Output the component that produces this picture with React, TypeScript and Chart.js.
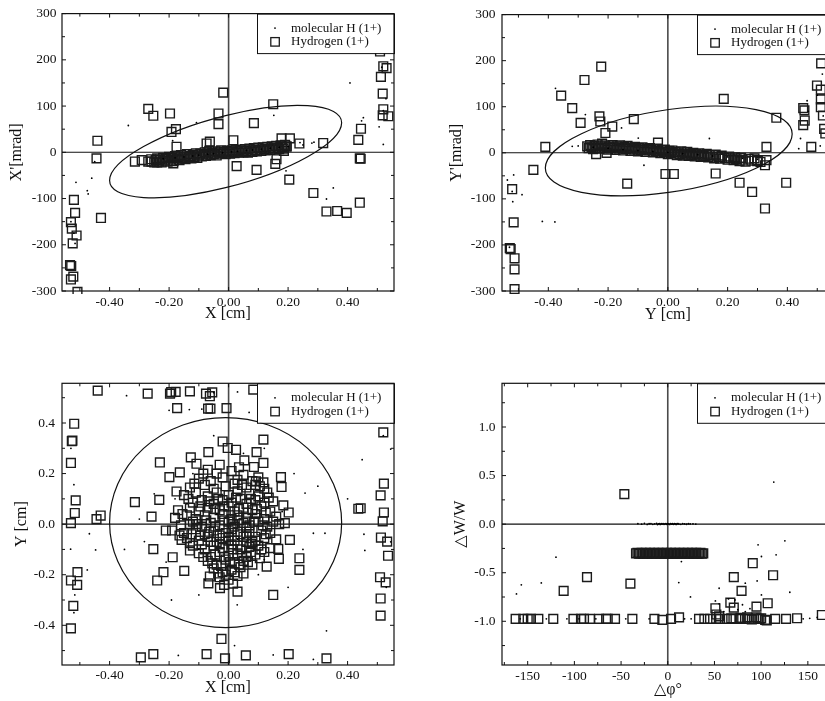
import { useEffect, useRef } from "react";
import { Chart, registerables } from "chart.js";

Chart.register(...registerables);

type Pt = [number, number];

const SERIF = "'Liberation Serif', 'Times New Roman', 'DejaVu Serif', serif";
const SERIES_LABELS = ["molecular H (1+)", "Hydrogen (1+)"];

// ---------- Shared tick values ----------
const CM_TICKS = [-0.4, -0.2, 0, 0.2, 0.4];
const CM_MINOR = [-0.5, -0.3, -0.1, 0.1, 0.3, 0.5];
const MRAD_TICKS = [-300, -200, -100, 0, 100, 200, 300];
const MRAD_MINOR = [-250, -150, -50, 50, 150, 250];
const PHI_TICKS = [-150, -100, -50, 0, 50, 100, 150];
const PHI_MINOR = [-175, -125, -75, -25, 25, 75, 125, 175];
const DW_TICKS = [-1.0, -0.5, 0, 0.5, 1.0];
const DW_MINOR = [-1.25, -0.75, -0.25, 0.25, 0.75, 1.25];

// ---------- Panel 1: X vs X' ----------
const P1_DOTS: Pt[] = [
  [-0.337, 58], [-0.108, 64], [0.408, 150], [0.453, 75], [0.447, 68], [0.506, 55], [0.52, 17], [0.529, 116],
  [0.287, 22], [0.352, -77], [0.329, -101], [0.193, -40], [0.152, 80], [-0.46, -56], [-0.475, -83], [-0.472, -90],
  [-0.513, -65], [-0.516, -197], [-0.188, 25], [-0.45, -20], [0.24, 21], [0.28, 20], [-0.53, -150], [-0.52, -175],
  [0.515, 184], [0.52, 90],
  [-0.22, -14], [-0.18, -12], [-0.15, -10], [-0.12, -8], [-0.1, -6], [-0.07, -4], [-0.05, -3], [-0.02, -1],
  [0.01, 1], [0.03, 2], [0.06, 4], [0.08, 5], [0.11, 7], [0.14, 9], [0.17, 11], [0.2, 13], [0.25, 16],
];
const P1_SQUARES: Pt[] = [
  [0.509, 218], [0.52, 186], [0.531, 182], [0.512, 163], [0.518, 127], [0.52, 93], [0.518, 80], [0.537, 78],
  [0.445, 51], [0.436, 27], [0.441, -13], [0.444, -14], [0.441, -109], [0.397, -131], [0.365, -127], [0.329, -128],
  [0.285, -88], [0.318, 20], [0.238, 19], [0.204, -59], [0.15, 104], [0.085, 63], [0.094, -38], [0.027, -30],
  [0.016, 26], [-0.018, 129], [-0.034, 84], [-0.034, 61], [-0.063, 23], [-0.074, 19], [-0.197, 84], [-0.192, 44],
  [-0.177, 50], [-0.27, 94], [-0.253, 79], [-0.441, 25], [-0.444, -13], [-0.429, -142], [-0.315, -20], [-0.292, -17],
  [-0.259, -20], [-0.24, -22], [-0.186, -24], [-0.175, 12], [0.161, -15], [0.157, -25], [0.186, 3], [0.195, 13],
  [0.206, 30], [0.178, 30],
  [-0.52, -103], [-0.516, -131], [-0.53, -151], [-0.527, -165], [-0.511, -180], [-0.524, -197], [-0.533, -244],
  [-0.529, -246], [-0.522, -269], [-0.53, -275], [-0.508, -302],
  [-0.27, -20], [-0.26, -15], [-0.25, -22], [-0.245, -17], [-0.24, -13], [-0.235, -20], [-0.23, -16], [-0.225, -22],
  [-0.22, -12], [-0.215, -18], [-0.21, -14], [-0.205, -20], [-0.2, -10], [-0.195, -16], [-0.19, -12], [-0.185, -19],
  [-0.18, -8], [-0.175, -14], [-0.17, -11], [-0.165, -17], [-0.16, -6], [-0.155, -13], [-0.15, -9], [-0.145, -15],
  [-0.14, -4], [-0.135, -11], [-0.13, -8], [-0.125, -13], [-0.12, -5], [-0.115, -10], [-0.11, -2], [-0.105, -12],
  [-0.1, -7], [-0.095, -3], [-0.09, -9], [-0.085, -5], [-0.08, 0], [-0.075, -8], [-0.07, -3], [-0.065, 3],
  [-0.06, -6], [-0.055, -1], [-0.05, -4], [-0.045, 2], [-0.04, -7], [-0.035, 0], [-0.03, -3], [-0.025, 4],
  [-0.02, -2], [-0.015, 1], [-0.01, -4], [-0.005, 3], [0, 0], [0.005, -3], [0.01, 4], [0.015, 1],
  [0.02, -2], [0.025, 5], [0.03, 2], [0.035, -1], [0.04, 6], [0.045, 3], [0.05, 0], [0.055, 7],
  [0.06, 3], [0.065, -1], [0.07, 8], [0.075, 4], [0.08, 1], [0.085, 9], [0.09, 5], [0.095, 2],
  [0.1, 10], [0.105, 6], [0.11, 3], [0.115, 11], [0.12, 7], [0.125, 4], [0.13, 12], [0.135, 8],
  [0.14, 5], [0.145, 13], [0.15, 9], [0.155, 6], [0.16, 14], [0.165, 10], [0.17, 7], [0.175, 15],
  [0.18, 11], [0.185, 8], [0.19, 16], [0.195, 12],
];
const P1_ELLIPSE = { cx: -0.01, cy: 1.5, ux: 0.39, uy: 62.5, vx: 0, vy: 78 };

// ---------- Panel 2: Y vs Y' ----------
const P2_DOTS: Pt[] = [
  [-0.376, 140], [-0.276, 83], [-0.155, 54], [-0.099, 32], [0.139, 31], [0.466, 113], [0.444, 31], [0.438, 9],
  [0.517, 171], [0.51, 15], [-0.521, -84], [-0.516, -48], [-0.488, -91], [-0.519, -106], [-0.42, -149], [-0.378, -150],
  [-0.537, -59], [-0.08, -27], [-0.3, 15], [-0.32, 14], [0.5, 125], [-0.53, -205], [0.52, 80], [0.47, 90],
  [-0.25, 12], [-0.2, 10], [-0.15, 7], [-0.1, 5], [-0.05, 3], [0.0, 1], [0.05, -2], [0.1, -4], [0.15, -7],
  [0.2, -9], [0.25, -12], [0.3, -14],
];
const P2_SQUARES: Pt[] = [
  [-0.223, 187], [-0.279, 158], [-0.357, 124], [-0.32, 97], [-0.292, 65], [-0.229, 79], [-0.226, 68], [-0.114, 73],
  [-0.186, 57], [-0.209, 43], [0.187, 117], [0.363, 76], [-0.41, 13], [-0.45, -37], [-0.521, -79], [-0.516, -151],
  [-0.529, -207], [-0.526, -209], [-0.513, -229], [-0.513, -253], [-0.513, -296], [-0.136, -67], [-0.008, -46],
  [0.02, -46], [0.16, -45], [0.24, -65], [0.282, -85], [0.325, -121], [0.396, -65], [0.33, 13], [0.33, -16],
  [0.325, -27], [0.299, -18], [-0.033, 22], [0.453, 97], [0.457, 92], [0.458, 70], [0.453, 60], [0.48, 13],
  [0.513, 194], [0.499, 146], [0.512, 137], [0.512, 116], [0.512, 99], [0.519, 81], [0.523, 52], [0.527, 42],
  [-0.24, -3], [-0.205, 0],
  [-0.27, 14], [-0.265, 10], [-0.26, 17], [-0.255, 12], [-0.25, 8], [-0.245, 15], [-0.24, 11], [-0.235, 18],
  [-0.23, 9], [-0.225, 14], [-0.22, 20], [-0.215, 10], [-0.21, 16], [-0.205, 12], [-0.2, 7], [-0.195, 14],
  [-0.19, 10], [-0.185, 17], [-0.18, 12], [-0.175, 6], [-0.17, 14], [-0.165, 9], [-0.16, 16], [-0.155, 11],
  [-0.15, 5], [-0.145, 13], [-0.14, 8], [-0.135, 15], [-0.13, 10], [-0.125, 4], [-0.12, 11], [-0.115, 7],
  [-0.11, 13], [-0.105, 9], [-0.1, 3], [-0.095, 10], [-0.09, 6], [-0.085, 12], [-0.08, 7], [-0.075, 2],
  [-0.07, 9], [-0.065, 5], [-0.06, 10], [-0.055, 6], [-0.05, 1], [-0.045, 8], [-0.04, 4], [-0.035, 9],
  [-0.03, 3], [-0.025, -1], [-0.02, 6], [-0.015, 2], [-0.01, 7], [-0.005, 1], [0, -3], [0.005, 4],
  [0.01, 0], [0.015, 5], [0.02, -2], [0.025, 2], [0.03, -5], [0.035, 1], [0.04, -3], [0.045, 3],
  [0.05, -6], [0.055, -1], [0.06, -4], [0.065, 2], [0.07, -7], [0.075, -2], [0.08, -5], [0.085, 0],
  [0.09, -8], [0.095, -3], [0.1, -6], [0.105, -1], [0.11, -9], [0.115, -4], [0.12, -7], [0.13, -2],
  [0.135, -10], [0.14, -5], [0.15, -8], [0.155, -12], [0.16, -4], [0.17, -9], [0.175, -13], [0.18, -6],
  [0.19, -11], [0.2, -15], [0.205, -8], [0.21, -12], [0.22, -16], [0.225, -10], [0.23, -14], [0.24, -18],
  [0.245, -11], [0.25, -15], [0.26, -19], [0.27, -13], [0.28, -17], [0.29, -12], [0.3, -16], [0.31, -20],
];
const P2_ELLIPSE = { cx: 0.003, cy: 4, ux: 0.413, uy: 37, vx: 0, vy: 90 };

// ---------- Panel 3: X vs Y ----------
const P3_DOTS: Pt[] = [
  [-0.343, 0.508], [-0.132, 0.453], [-0.09, 0.455], [0.03, 0.523], [0.069, 0.442], [0.449, 0.255], [0.545, 0.297],
  [0.545, -0.07], [0.257, 0.123], [0.285, -0.036], [0.324, -0.036], [0.455, -0.04], [0.458, -0.104], [-0.531, -0.099],
  [-0.52, 0.156], [-0.517, -0.28], [-0.475, -0.181], [-0.468, -0.038], [-0.447, -0.102], [-0.283, -0.069],
  [-0.192, -0.3], [0.029, -0.319], [0.329, -0.422], [0.285, -0.535], [-0.169, -0.519], [0.15, -0.517],
  [-0.3, 0.02], [-0.25, 0.12], [-0.21, -0.15], [0.22, 0.2], [0.25, -0.1], [0.2, -0.25], [-0.1, -0.28],
  [0.12, 0.3], [-0.05, 0.35], [0.18, 0.05], [-0.18, 0.1], [-0.12, 0.2], [0.1, -0.2], [-0.08, -0.22],
  [0.05, 0.28], [0.3, 0.15], [-0.35, -0.1], [0.4, 0.1], [-0.05, 0.52], [0.12, 0.5], [-0.2, 0.45], [0.02, -0.48],
  [0.52, 0.35], [0.53, -0.25], [-0.53, 0.3], [-0.52, -0.35], [-0.04, 0.04], [0.03, -0.06], [0.08, 0.1],
  [-0.1, -0.1], [0.12, -0.14], [-0.14, 0.08],
];
const P3_SQUARES: Pt[] = [
  [-0.44, 0.528], [-0.272, 0.516], [-0.197, 0.516], [-0.193, 0.522], [-0.178, 0.523], [-0.13, 0.525], [-0.076, 0.516],
  [-0.055, 0.521], [-0.063, 0.506], [-0.061, 0.457], [-0.069, 0.457], [-0.007, 0.459], [-0.173, 0.459], [0.083, 0.532],
  [-0.519, 0.397], [-0.525, 0.33], [-0.527, 0.328], [-0.53, 0.242], [-0.514, 0.094], [-0.517, 0.044], [-0.53, 0.004],
  [-0.444, 0.02], [-0.43, 0.034], [-0.508, -0.19], [-0.53, -0.223], [-0.509, -0.24], [-0.522, -0.323], [-0.53, -0.412],
  [0.52, 0.363], [0.522, 0.16], [0.511, 0.114], [0.522, 0.046], [0.518, 0.011], [0.512, -0.053], [0.533, -0.069],
  [0.536, -0.125], [0.509, -0.21], [0.528, -0.23], [0.511, -0.294], [0.511, -0.362], [0.436, 0.061], [0.444, 0.063],
  [-0.295, -0.527], [-0.253, -0.514], [-0.074, -0.514], [-0.024, -0.454], [-0.012, -0.531], [0.058, -0.519],
  [0.202, -0.514], [0.329, -0.531],
  [-0.315, 0.087], [-0.259, 0.03], [-0.233, 0.096], [-0.231, 0.244], [-0.199, 0.186], [-0.164, 0.205], [-0.175, 0.129],
  [-0.127, 0.264], [-0.108, 0.239], [-0.068, 0.285], [-0.02, 0.327], [-0.003, 0.301], [0.025, 0.294], [0.117, 0.334],
  [0.094, 0.285], [0.053, 0.252], [0.085, 0.226], [0.117, 0.242], [0.176, 0.186], [0.178, 0.147], [0.092, 0.169],
  [0.117, 0.165], [0.184, 0.074], [0.202, 0.046], [0.189, 0.004], [0.206, -0.062], [0.238, -0.135], [0.238, -0.181],
  [0.169, -0.137], [0.15, -0.28], [0.03, -0.267], [-0.029, -0.253], [-0.068, -0.234], [-0.063, -0.207], [-0.24, -0.223],
  [-0.219, -0.19], [-0.149, -0.185], [-0.253, -0.099], [-0.188, -0.131], [-0.211, -0.025], [-0.158, -0.062],
  [-0.13, -0.104], [0.128, -0.168], [0.167, -0.098], [0.077, -0.078],
  [-0.07, 0.215], [-0.04, 0.2], [0.01, 0.21], [0.05, 0.195],
  [-0.1, 0.18], [-0.06, 0.17], [-0.02, 0.185], [0.03, 0.175], [0.08, 0.17], [0.1, 0.185],
  [-0.13, 0.145], [-0.08, 0.155], [-0.05, 0.14], [-0.01, 0.15], [0.02, 0.16], [0.06, 0.145], [0.09, 0.155], [0.12, 0.14],
  [-0.15, 0.115], [-0.11, 0.125], [-0.07, 0.11], [-0.04, 0.125], [0.0, 0.115], [0.03, 0.13], [0.07, 0.12], [0.1, 0.11], [0.13, 0.125],
  [-0.12, 0.085], [-0.09, 0.095], [-0.05, 0.08], [-0.02, 0.095], [0.01, 0.085], [0.04, 0.1], [0.06, 0.08], [0.09, 0.095], [0.12, 0.085], [0.15, 0.09],
  [-0.17, 0.055], [-0.13, 0.065], [-0.1, 0.05], [-0.07, 0.065], [-0.03, 0.055], [0.0, 0.07], [0.02, 0.05], [0.05, 0.065], [0.08, 0.055], [0.11, 0.07], [0.14, 0.05],
  [-0.18, 0.025], [-0.14, 0.035], [-0.11, 0.02], [-0.08, 0.035], [-0.05, 0.025], [-0.02, 0.04], [0.01, 0.02], [0.03, 0.035], [0.06, 0.025], [0.09, 0.04], [0.12, 0.02], [0.16, 0.03],
  [-0.16, -0.005], [-0.12, 0.01], [-0.09, -0.01], [-0.06, 0.005], [-0.03, -0.005], [0.0, 0.01], [0.02, -0.01], [0.05, 0.005], [0.07, -0.005], [0.1, 0.01], [0.13, -0.01], [0.17, 0.0],
  [-0.19, -0.025], [-0.15, -0.035], [-0.11, -0.02], [-0.08, -0.04], [-0.05, -0.025], [-0.01, -0.035], [0.01, -0.02], [0.04, -0.04], [0.07, -0.03], [0.11, -0.025], [0.14, -0.035],
  [-0.14, -0.055], [-0.1, -0.065], [-0.07, -0.05], [-0.04, -0.07], [-0.02, -0.055], [0.02, -0.065], [0.05, -0.05], [0.08, -0.07], [0.12, -0.055], [0.16, -0.06],
  [-0.12, -0.085], [-0.08, -0.1], [-0.05, -0.085], [-0.02, -0.095], [0.01, -0.08], [0.04, -0.1], [0.07, -0.09], [0.1, -0.085], [0.14, -0.095],
  [-0.1, -0.115], [-0.06, -0.13], [-0.03, -0.11], [0.0, -0.125], [0.03, -0.115], [0.06, -0.13], [0.09, -0.12], [0.12, -0.11],
  [-0.07, -0.145], [-0.04, -0.16], [-0.01, -0.14], [0.02, -0.155], [0.05, -0.145], [0.08, -0.16],
  [-0.05, -0.175], [-0.02, -0.19], [0.01, -0.18], [0.04, -0.17],
  [-0.03, -0.21], [0.0, -0.22], [0.03, -0.205],
  [-0.085, 0.2], [-0.03, 0.235], [0.035, 0.225], [-0.115, 0.16], [0.045, 0.155], [0.105, 0.15],
  [-0.135, 0.1], [-0.065, 0.09], [-0.035, 0.1], [0.025, 0.105], [0.075, 0.1], [0.135, 0.105],
  [-0.155, 0.04], [-0.095, 0.07], [-0.045, 0.06], [-0.015, 0.07], [0.035, 0.06], [0.065, 0.045], [0.095, 0.06], [0.125, 0.045],
  [-0.13, 0.0], [-0.105, 0.0], [-0.075, 0.015], [-0.045, -0.01], [-0.015, 0.015], [0.015, 0.0], [0.035, 0.015], [0.06, -0.015], [0.085, 0.01], [0.115, -0.005], [0.15, 0.01],
  [-0.165, -0.045], [-0.125, -0.04], [-0.095, -0.045], [-0.065, -0.03], [-0.03, -0.045], [0.0, -0.05], [0.03, -0.03], [0.06, -0.045], [0.09, -0.05], [0.125, -0.04],
  [-0.13, -0.075], [-0.09, -0.08], [-0.06, -0.07], [-0.03, -0.08], [0.0, -0.065], [0.03, -0.085], [0.06, -0.07], [0.09, -0.065], [0.11, -0.1],
  [-0.085, -0.13], [-0.045, -0.12], [-0.015, -0.13], [0.015, -0.1], [0.045, -0.125], [0.075, -0.11], [0.105, -0.135],
  [-0.055, -0.155], [-0.025, -0.165], [0.005, -0.15], [0.035, -0.16], [0.065, -0.15],
  [-0.035, -0.195], [-0.01, -0.2], [0.02, -0.19], [0.05, -0.195], [0.015, -0.235], [-0.015, -0.24],
];
const P3_ELLIPSE = { cx: -0.01, cy: 0.006, ux: 0.39, uy: 0, vx: 0, vy: 0.415 };

// ---------- Panel 4: delta phi vs delta W/W ----------
const P4_DOTS: Pt[] = [
  [-32, 0.005], [-28, 0], [-25, 0.008], [-22, -0.003], [-20, 0.004], [-18, 0.006], [-16, -0.002], [-14, 0.003],
  [-12, 0.007], [-11, -0.004], [-10, 0.002], [-9, 0.005], [-8, -0.003], [-7, 0.004], [-6, 0.001], [-5, 0.006],
  [-4, -0.002], [-3, 0.003], [-2, 0.005], [-1, -0.001], [0, 0.004], [1, 0.002], [2, -0.003], [3, 0.006],
  [4, 0.001], [5, 0.004], [6, -0.002], [7, 0.005], [8, 0.002], [9, -0.003], [10, 0.004], [11, 0.006],
  [12, 0.001], [14, -0.002], [16, 0.005], [18, 0.002], [20, -0.001], [22, 0.004], [24, 0.002], [27, 0.003], [30, 0.001],
  [113.5, 0.433], [125.4, -0.172], [96.7, -0.213], [116, -0.316], [100.3, -0.333], [14.6, -0.385], [-119.7, -0.34],
  [-135.4, -0.605], [-156.8, -0.625], [-162, -0.718], [11.8, -0.601], [24.3, -0.749], [130.7, -0.701], [55, -0.66],
  [51, -0.79], [83, -0.608], [95.7, -0.584], [100.3, -0.729], [60, -0.9], [75, -0.88], [83, -0.9], [88, -0.87],
  [65, -0.77], [72, -0.78], [80, -0.83], [55, -0.82],
  [-158, -0.975], [-130, -0.975], [-108, -0.975], [-95, -0.975], [-77, -0.975], [-45, -0.975], [-20, -0.975],
  [18, -0.975], [25, -0.975], [145, -0.975], [152, -0.969], [160, -0.96],
];
const P4_SQUARES: Pt[] = [
  [-46.5, 0.309], [-86.5, -0.546], [-111.5, -0.687], [-40, -0.612], [91, -0.402], [70.7, -0.546], [112.8, -0.526],
  [79, -0.687], [67, -0.808], [70.7, -0.859], [51, -0.866], [95, -0.849], [107, -0.814], [165, -0.935], [138.5, -0.969],
  [-162.9, -0.975], [-154.7, -0.975], [-150, -0.975], [-146.5, -0.975], [-138.6, -0.975], [-122.6, -0.975],
  [-101, -0.975], [-92.9, -0.975], [-89.7, -0.975], [-83.3, -0.975], [-73.6, -0.975], [-66, -0.975], [-64.3, -0.975],
  [-56.5, -0.975], [-37.9, -0.975], [-14.3, -0.975], [-5.8, -0.985], [3.5, -0.975], [12.1, -0.96], [33.5, -0.975],
  [39.2, -0.975], [45.3, -0.975], [51.8, -0.975], [56, -0.975], [63.2, -0.975], [70.3, -0.975], [76.7, -0.975],
  [82.8, -0.975], [87.4, -0.975], [92.5, -0.975], [98.2, -0.975], [104.3, -0.985], [115, -0.975], [126.7, -0.975],
  [52, -0.93], [55, -0.95], [85, -0.96], [95, -0.96], [100, -0.97], [106, -0.99], [68, -0.97], [78, -0.965], [90, -0.98],
  [-34, -0.3], [-32.5, -0.295], [-31, -0.305], [-29.5, -0.3], [-28, -0.295], [-26.5, -0.305], [-25, -0.3],
  [-23.5, -0.295], [-22, -0.305], [-20.5, -0.3], [-19, -0.295], [-17.5, -0.305], [-16, -0.3], [-14.5, -0.295],
  [-13, -0.305], [-11.5, -0.3], [-10, -0.295], [-8.5, -0.305], [-7, -0.3], [-5.5, -0.295], [-4, -0.305],
  [-2.5, -0.3], [-1, -0.295], [0.5, -0.305], [2, -0.3], [3.5, -0.295], [5, -0.305], [6.5, -0.3], [8, -0.295],
  [9.5, -0.305], [11, -0.3], [12.5, -0.295], [14, -0.305], [15.5, -0.3], [17, -0.295], [18.5, -0.305], [20, -0.3],
  [21.5, -0.295], [23, -0.305], [24.5, -0.3], [26, -0.295], [27.5, -0.305], [29, -0.3], [30.5, -0.295],
  [32, -0.305], [33.5, -0.3], [35, -0.295], [36.5, -0.305], [38, -0.3],
];

interface Ellipse { cx: number; cy: number; ux: number; uy: number; vx: number; vy: number }
interface Panel {
  canvasLeft: number; canvasTop: number; canvasW: number; canvasH: number;
  areaLeft: number; areaTop: number; areaRight: number; areaBottom: number;
  xMin: number; xMax: number; yMin: number; yMax: number;
  xTicks: number[]; yTicks: number[]; xMinor: number[]; yMinor: number[];
  xDec: number; yDec: number; xTitle: string; yTitle: string;
  xTickPad: number; yTickPad: number; xTitleY: number; yTitleX: number;
  dots: Pt[]; squares: Pt[]; ellipse: Ellipse | null;
}

const PANELS: Panel[] = [
  {
    canvasLeft: 0, canvasTop: 0, canvasW: 412, canvasH: 340,
    areaLeft: 62, areaTop: 12, areaRight: 394, areaBottom: 291,
    xMin: -0.56, xMax: 0.556, yMin: -300, yMax: 300,
    xTicks: CM_TICKS, yTicks: MRAD_TICKS, xMinor: CM_MINOR, yMinor: MRAD_MINOR,
    xDec: 2, yDec: 0, xTitle: "X [cm]", yTitle: "X'[mrad]",
    xTickPad: 3.5, yTickPad: 5.5, xTitleY: 314, yTitleX: 17,
    dots: P1_DOTS, squares: P1_SQUARES, ellipse: P1_ELLIPSE,
  },
  {
    canvasLeft: 412, canvasTop: 0, canvasW: 430, canvasH: 340,
    areaLeft: 90, areaTop: 12, areaRight: 422, areaBottom: 291,
    xMin: -0.555, xMax: 0.556, yMin: -300, yMax: 300,
    xTicks: CM_TICKS, yTicks: MRAD_TICKS, xMinor: CM_MINOR, yMinor: MRAD_MINOR,
    xDec: 2, yDec: 0, xTitle: "Y [cm]", yTitle: "Y'[mrad]",
    xTickPad: 3.5, yTickPad: 6.5, xTitleY: 315, yTitleX: 45,
    dots: P2_DOTS, squares: P2_SQUARES, ellipse: P2_ELLIPSE,
  },
  {
    canvasLeft: 0, canvasTop: 340, canvasW: 412, canvasH: 361,
    areaLeft: 62, areaTop: 43.3, areaRight: 394, areaBottom: 325,
    xMin: -0.56, xMax: 0.556, yMin: -0.557, yMax: 0.557,
    xTicks: CM_TICKS, yTicks: CM_TICKS, xMinor: CM_MINOR, yMinor: CM_MINOR,
    xDec: 2, yDec: 1, xTitle: "X [cm]", yTitle: "Y [cm]",
    xTickPad: 2, yTickPad: 7, xTitleY: 348, yTitleX: 21.7,
    dots: P3_DOTS, squares: P3_SQUARES, ellipse: P3_ELLIPSE,
  },
  {
    canvasLeft: 412, canvasTop: 340, canvasW: 430, canvasH: 361,
    areaLeft: 90, areaTop: 43.3, areaRight: 422, areaBottom: 325,
    xMin: -177.5, xMax: 178, yMin: -1.45, yMax: 1.45,
    xTicks: PHI_TICKS, yTicks: DW_TICKS, xMinor: PHI_MINOR, yMinor: DW_MINOR,
    xDec: 0, yDec: 1, xTitle: "△φ°", yTitle: "△W/W",
    xTickPad: 3, yTickPad: 6.5, xTitleY: 350, yTitleX: 48.5,
    dots: P4_DOTS, squares: P4_SQUARES, ellipse: null,
  },
];

const decorPlugin = {
  id: "panelDecor",
  beforeDatasetsDraw(chart: any) {
    const { ctx, chartArea: a, scales } = chart;
    const x0 = scales.x.getPixelForValue(0);
    const y0 = scales.y.getPixelForValue(0);
    ctx.save();
    ctx.strokeStyle = "#4a4a4a";
    ctx.lineWidth = 1.6;
    ctx.beginPath();
    ctx.moveTo(x0, a.top);
    ctx.lineTo(x0, a.bottom);
    ctx.stroke();
    ctx.strokeStyle = "#111";
    ctx.lineWidth = 1.1;
    ctx.beginPath();
    ctx.moveTo(a.left, y0);
    ctx.lineTo(a.right, y0);
    ctx.stroke();
    ctx.restore();
  },
  afterDatasetsDraw(chart: any, _args: any, opts: any) {
    const { ctx, chartArea: a, scales } = chart;
    const xs = scales.x;
    const ys = scales.y;
    ctx.save();
    const e: Ellipse | null = opts.ellipse;
    if (e) {
      const cxp = xs.getPixelForValue(e.cx);
      const cyp = ys.getPixelForValue(e.cy);
      const ux = xs.getPixelForValue(e.cx + e.ux) - cxp;
      const uy = ys.getPixelForValue(e.cy + e.uy) - cyp;
      const vx = xs.getPixelForValue(e.cx + e.vx) - cxp;
      const vy = ys.getPixelForValue(e.cy + e.vy) - cyp;
      ctx.save();
      ctx.beginPath();
      ctx.rect(a.left, a.top, a.right - a.left, a.bottom - a.top);
      ctx.clip();
      ctx.beginPath();
      ctx.save();
      ctx.transform(ux, uy, vx, vy, cxp, cyp);
      ctx.arc(0, 0, 1, 0, Math.PI * 2);
      ctx.restore();
      ctx.strokeStyle = "#111";
      ctx.lineWidth = 1.2;
      ctx.stroke();
      ctx.restore();
    }
    ctx.strokeStyle = "#111";
    ctx.lineWidth = 1;
    const drawX = (vals: number[], len: number) => {
      vals.forEach((v) => {
        const p = xs.getPixelForValue(v);
        if (p < a.left || p > a.right) return;
        ctx.beginPath();
        ctx.moveTo(p, a.bottom);
        ctx.lineTo(p, a.bottom - len);
        ctx.moveTo(p, a.top);
        ctx.lineTo(p, a.top + len);
        ctx.stroke();
      });
    };
    const drawY = (vals: number[], len: number) => {
      vals.forEach((v) => {
        const p = ys.getPixelForValue(v);
        if (p < a.top || p > a.bottom) return;
        ctx.beginPath();
        ctx.moveTo(a.left, p);
        ctx.lineTo(a.left + len, p);
        ctx.moveTo(a.right, p);
        ctx.lineTo(a.right - len, p);
        ctx.stroke();
      });
    };
    drawX(opts.xTicks, 4);
    drawX(opts.xMinor, 3);
    drawY(opts.yTicks, 4);
    drawY(opts.yMinor, 3);
    const lx = a.left + 195;
    const ly = a.top;
    const lh = 39.5;
    ctx.fillStyle = "#fff";
    ctx.fillRect(lx, ly, a.right - lx, lh);
    ctx.strokeStyle = "#111";
    ctx.lineWidth = 1;
    ctx.strokeRect(lx + 0.5, ly + 0.5, a.right - lx, lh);
    const labels = chart.data.datasets.map((d: any) => d.label);
    ctx.fillStyle = "#000";
    ctx.beginPath();
    ctx.arc(lx + 18, ly + 14.5, 0.9, 0, Math.PI * 2);
    ctx.fill();
    ctx.strokeStyle = "#1b1b1b";
    ctx.lineWidth = 1.3;
    ctx.strokeRect(lx + 13.8, ly + 24, 8.5, 8.5);
    ctx.fillStyle = "#111";
    ctx.font = `13px ${SERIF}`;
    ctx.textBaseline = "middle";
    ctx.textAlign = "left";
    ctx.fillText(labels[0], lx + 34, ly + 14.5);
    ctx.fillText(labels[1], lx + 34, ly + 28);
    ctx.strokeStyle = "#111";
    ctx.lineWidth = 1.2;
    ctx.strokeRect(a.left, a.top, a.right - a.left, a.bottom - a.top);
    ctx.restore();
  },
};

function PanelChart({ p }: { p: Panel }) {
  const ref = useRef<HTMLCanvasElement | null>(null);
  useEffect(() => {
    const canvas = ref.current;
    if (!canvas) return;
    const LH = 16 * 1.2;
    const titleFont = { family: SERIF, size: 16 };
    const tickFont = { family: SERIF, size: 13.5 };
    const chart = new Chart(canvas, {
      type: "scatter",
      data: {
        datasets: [
          {
            label: SERIES_LABELS[0],
            data: p.dots.map(([x, y]) => ({ x, y })),
            pointStyle: "circle",
            pointRadius: 0.9,
            pointBackgroundColor: "#000",
            pointBorderWidth: 0,
            clip: 3,
          },
          {
            label: SERIES_LABELS[1],
            data: p.squares.map(([x, y]) => ({ x, y })),
            pointStyle: "rect",
            pointRadius: 6.2,
            pointBorderColor: "#1b1b1b",
            pointBackgroundColor: "rgba(0,0,0,0)",
            pointBorderWidth: 1.4,
            clip: 3,
          },
        ],
      } as any,
      options: {
        responsive: false,
        animation: false,
        events: [],
        layout: {
          autoPadding: false,
          padding: { left: 0, top: p.areaTop, right: p.canvasW - p.areaRight, bottom: 0 },
        },
        plugins: {
          legend: { display: false },
          tooltip: { enabled: false },
          panelDecor: {
            ellipse: p.ellipse,
            xTicks: p.xTicks, yTicks: p.yTicks, xMinor: p.xMinor, yMinor: p.yMinor,
          },
        } as any,
        scales: {
          x: {
            type: "linear",
            position: "bottom",
            min: p.xMin,
            max: p.xMax,
            grid: { display: false, drawTicks: false, tickLength: 0 },
            border: { display: false },
            ticks: {
              font: tickFont,
              color: "#111",
              padding: p.xTickPad,
              maxRotation: 0,
              autoSkip: false,
              callback: (v: any) => Number(v).toFixed(p.xDec),
            },
            afterBuildTicks: (s: any) => {
              s.ticks = p.xTicks.map((v) => ({ value: v }));
            },
            afterFit: (s: any) => {
              s.height = p.canvasH - p.areaBottom;
            },
            title: {
              display: true,
              text: p.xTitle,
              font: titleFont,
              color: "#111",
              padding: { top: 0, bottom: Math.max(0, p.canvasH - p.xTitleY - LH / 2) },
            },
          },
          y: {
            type: "linear",
            position: "left",
            min: p.yMin,
            max: p.yMax,
            grid: { display: false, drawTicks: false, tickLength: 0 },
            border: { display: false },
            ticks: {
              font: tickFont,
              color: "#111",
              padding: p.yTickPad,
              autoSkip: false,
              callback: (v: any) => Number(v).toFixed(p.yDec),
            },
            afterBuildTicks: (s: any) => {
              s.ticks = p.yTicks.map((v) => ({ value: v }));
            },
            afterFit: (s: any) => {
              s.width = p.areaLeft;
            },
            title: {
              display: true,
              text: p.yTitle,
              font: titleFont,
              color: "#111",
              padding: { top: Math.max(0, p.yTitleX - LH / 2), bottom: 0 },
            },
          },
        },
      } as any,
      plugins: [decorPlugin as any],
    });
    return () => chart.destroy();
  }, [p]);
  return (
    <canvas
      ref={ref}
      width={p.canvasW}
      height={p.canvasH}
      style={{ position: "absolute", left: p.canvasLeft, top: p.canvasTop, width: p.canvasW, height: p.canvasH }}
    />
  );
}

export default function App() {
  return (
    <div
      style={{
        position: "fixed",
        left: 0,
        top: 0,
        width: 825,
        height: 701,
        overflow: "hidden",
        background: "#fff",
      }}
    >
      {PANELS.map((p, i) => (
        <PanelChart key={i} p={p} />
      ))}
    </div>
  );
}
